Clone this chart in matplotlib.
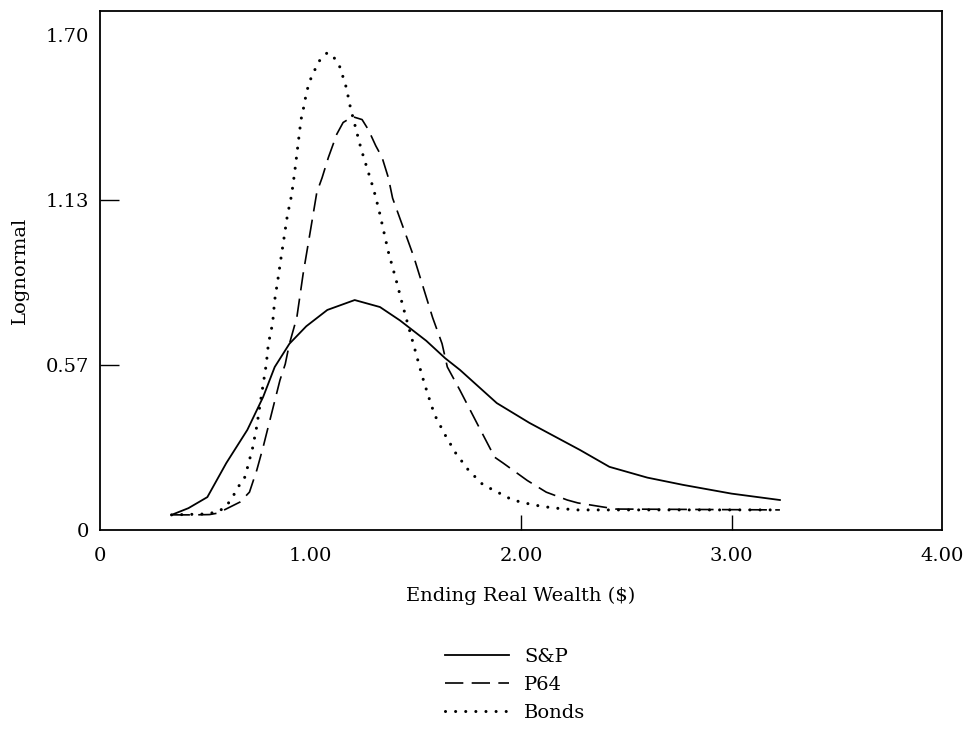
import matplotlib
matplotlib.use("Agg")
import matplotlib.pyplot as plt

# S&P (solid)
sp_x = [0.34, 0.42, 0.51, 0.60, 0.70, 0.775, 0.83, 0.90, 0.98, 1.08, 1.21, 1.33, 1.425, 1.55, 1.64, 1.71,
        1.885, 2.04, 2.28, 2.42, 2.60, 2.77, 3.00, 3.23]
sp_y = [0.052, 0.075, 0.113, 0.23, 0.344, 0.457, 0.56, 0.64, 0.70, 0.756, 0.79, 0.766, 0.72, 0.65, 0.59, 0.55,
        0.436, 0.368, 0.275, 0.217, 0.18, 0.155, 0.125, 0.103]

# P64 (dashed)
p64_x = [0.34, 0.45, 0.52, 0.56, 0.665, 0.71, 0.745, 0.775, 0.815, 0.855, 0.88, 0.90, 0.935, 0.965, 1.00,
         1.03, 1.055, 1.085, 1.125, 1.155, 1.20, 1.245, 1.275, 1.31, 1.34, 1.37, 1.39, 1.44, 1.49, 1.535,
         1.58, 1.625, 1.65, 1.71, 1.79, 1.875, 1.915, 2.03, 2.12, 2.22, 2.27, 2.45, 3.23]
p64_y = [0.052, 0.052, 0.053, 0.058, 0.096, 0.13, 0.206, 0.285, 0.40, 0.515, 0.57, 0.64, 0.73, 0.88, 1.03,
         1.16, 1.21, 1.28, 1.36, 1.40, 1.42, 1.41, 1.375, 1.32, 1.28, 1.21, 1.14, 1.04, 0.94, 0.835,
         0.73, 0.64, 0.56, 0.48, 0.368, 0.25, 0.23, 0.17, 0.13, 0.103, 0.093, 0.072, 0.069]

# Bonds (dotted)
bonds_x = [0.34, 0.50, 0.56, 0.60, 0.63, 0.655, 0.685, 0.70, 0.725, 0.745, 0.76, 0.775, 0.79, 0.80, 0.82,
           0.83, 0.845, 0.86, 0.875, 0.89, 0.91, 0.925, 0.94, 0.955, 0.97, 0.98, 0.995, 1.02, 1.04, 1.08,
           1.11, 1.14, 1.17, 1.19, 1.215, 1.24, 1.27, 1.30, 1.325, 1.37, 1.41, 1.435, 1.465, 1.49, 1.53,
           1.56, 1.59, 1.64, 1.69, 1.75, 1.82, 1.87, 1.96, 2.06, 2.15, 2.265, 3.23]
bonds_y = [0.052, 0.055, 0.062, 0.082, 0.113, 0.147, 0.175, 0.213, 0.282, 0.357, 0.43, 0.50, 0.57, 0.64, 0.71,
           0.79, 0.86, 0.935, 1.007, 1.08, 1.15, 1.23, 1.32, 1.41, 1.46, 1.50, 1.54, 1.58, 1.61, 1.64,
           1.625, 1.59, 1.52, 1.45, 1.38, 1.31, 1.24, 1.17, 1.10, 0.955, 0.85, 0.78, 0.70, 0.636, 0.53,
           0.46, 0.395, 0.326, 0.264, 0.206, 0.155, 0.137, 0.103, 0.086, 0.076, 0.069, 0.069]

x_ticks = [0, 1, 2, 3, 4]
x_tick_labels = ["0", "1.00", "2.00", "3.00", "4.00"]
y_ticks = [0, 1.7 / 3, 2 * 1.7 / 3, 1.7]
y_tick_labels = ["0", "0.57", "1.13", "1.70"]

plt.rcParams['font.family'] = ['DejaVu Serif']

fig = plt.figure(figsize=(9.69, 7.34), dpi=100)
ax = fig.add_axes([100 / 969, 1 - 530 / 734, 842 / 969, 519 / 734])

l1, = ax.plot(sp_x, sp_y, color='black', lw=1.3, linestyle='-', label='S&P')
l2, = ax.plot(p64_x, p64_y, color='black', lw=1.2, linestyle=(0, (11, 5)), label='P64')
l3, = ax.plot(bonds_x, bonds_y, color='black', lw=2.2, linestyle=(0, (0.01, 3.3)),
              dash_capstyle='round', label='Bonds')

ax.set_xlim(0, 4)
ax.set_ylim(0, 1.783)
ax.set_xticks(x_ticks)
ax.set_xticklabels(x_tick_labels)
ax.set_yticks(y_ticks)
ax.set_yticklabels(y_tick_labels)
ax.tick_params(axis='both', direction='in', width=1.0, labelsize=14)
ax.tick_params(axis='x', length=11, pad=12)
ax.tick_params(axis='y', length=14, pad=8)
# ticks that are not visible in the reference
for i in (0, 1, 4):
    ax.xaxis.get_major_ticks()[i].tick1line.set_visible(False)
for i in (0, 3):
    ax.yaxis.get_major_ticks()[i].tick1line.set_visible(False)
for s in ax.spines.values():
    s.set_linewidth(1.3)

ax.set_xlabel(r"Ending Real Wealth (\$)", fontsize=14, labelpad=16)
ax.set_ylabel("Lognormal", fontsize=14, labelpad=12)

fig.legend(handles=[l1, l2, l3], loc='center', bbox_to_anchor=(515 / 969, 1 - 685 / 734),
           frameon=False, fontsize=14, handlelength=3.3, labelspacing=0.5, handletextpad=0.8)

fig.savefig("out.png", dpi=100)
